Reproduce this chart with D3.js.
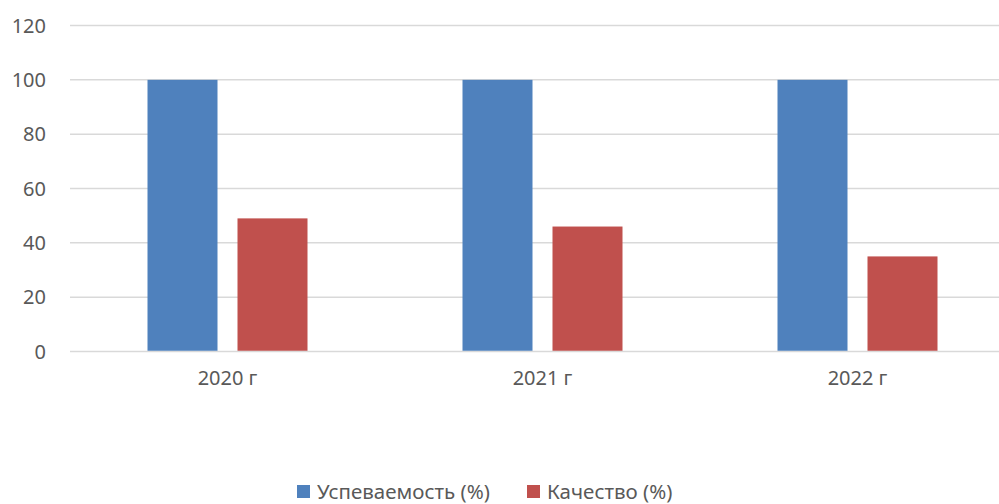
<!DOCTYPE html>
<html>
<head>
<meta charset="utf-8">
<script src="https://cdn.jsdelivr.net/npm/d3@7"></script>
<style>
  body { margin: 0; background: #fff; }
  svg { display: block; font-family: "Noto Sans", "Open Sans", sans-serif; }
</style>
</head>
<body>
<svg id="chart" width="999" height="504"></svg>
<script>
var years = ["2020 г", "2021 г", "2022 г"];
var seriesNames = ["Успеваемость (%)", "Качество (%)"];
var uspevaemost = [100, 100, 100];
var kachestvo = [49, 46, 35];
var yTicks = [0, 20, 40, 60, 80, 100, 120];
var colors = ["#4f81bd", "#c0504d"];

var svg = d3.select("#chart"),
    plotLeft = 70,
    plotRight = 1015,
    plotTop = 25.5,
    plotBottom = 351.5;

var series = [uspevaemost, kachestvo];

var x = d3.scaleBand()
    .domain(years)
    .range([plotLeft, plotRight]);

// two bars of 70px with a 20px gap
var inner = d3.scaleBand()
    .domain([0, 1])
    .range([0, 160])
    .paddingInner(20 / 90);

var y = d3.scaleLinear()
    .domain([0, 120])
    .range([plotBottom, plotTop]);

// gridlines
svg.append("g")
    .selectAll("line")
    .data(yTicks)
    .enter()
    .append("line")
    .attr("x1", plotLeft)
    .attr("x2", 999)
    .attr("y1", function(d) { return y(d); })
    .attr("y2", function(d) { return y(d); })
    .attr("stroke", "#d9d9d9")
    .attr("stroke-width", 1.5);

// y labels
svg.append("g")
    .selectAll("text")
    .data(yTicks)
    .enter()
    .append("text")
    .attr("x", 46)
    .attr("y", function(d) { return y(d); })
    .attr("dy", "0.35em")
    .attr("text-anchor", "end")
    .attr("fill", "#595959")
    .style("font-size", "20px")
    .text(function(d) { return d; });

// bars
var groups = svg.append("g")
    .selectAll("g")
    .data(years)
    .enter()
    .append("g")
    .attr("transform", function(d) {
        return "translate(" + (x(d) + (x.bandwidth() - 160) / 2) + ",0)";
    });

groups.selectAll("rect")
    .data(function(d, i) {
        return series.map(function(s, k) { return {k: k, v: s[i]}; });
    })
    .enter()
    .append("rect")
    .attr("x", function(d) { return inner(d.k); })
    .attr("width", inner.bandwidth())
    .attr("y", function(d) { return y(d.v); })
    .attr("height", function(d) { return plotBottom - y(d.v) - 0.75; })
    .attr("fill", function(d) { return colors[d.k]; });

// x labels
svg.append("g")
    .selectAll("text")
    .data(years)
    .enter()
    .append("text")
    .attr("x", function(d) { return x(d) + x.bandwidth() / 2; })
    .attr("y", 385)
    .attr("text-anchor", "middle")
    .attr("fill", "#595959")
    .style("font-size", "20px")
    .text(function(d) { return d; });

// legend
var legendX = [297, 527];
var legend = svg.append("g")
    .selectAll("g")
    .data(seriesNames)
    .enter()
    .append("g")
    .attr("transform", function(d, i) { return "translate(" + legendX[i] + ",485)"; });

legend.append("rect")
    .attr("width", 13)
    .attr("height", 13)
    .attr("fill", function(d, i) { return colors[i]; });

legend.append("text")
    .attr("x", 20)
    .attr("y", 6.5)
    .attr("dy", "0.35em")
    .attr("fill", "#595959")
    .style("font-size", "20.5px")
    .text(function(d) { return d; });
</script>
</body>
</html>
